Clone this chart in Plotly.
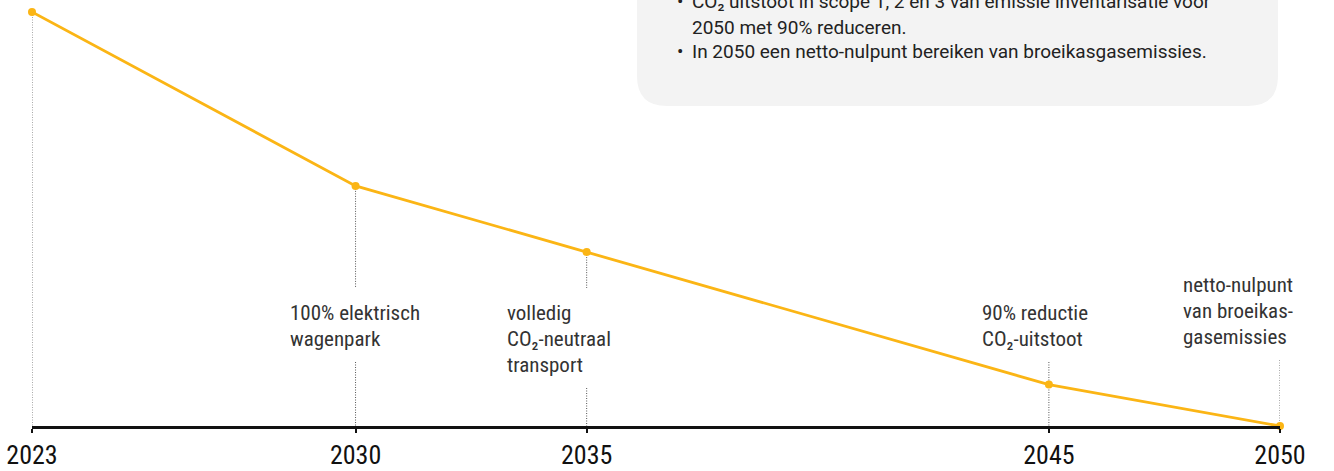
import plotly.graph_objects as go

# ---------------- data ----------------
years = [2023, 2030, 2035, 2045, 2050]
emissions = [100, 58, 42, 10, 0]          # relative emission level (%)
tick_labels = ["2023", "2030", "2035", "2045", "2050"]

milestone_years = [2030, 2035, 2045, 2050]
milestone_labels = [
    "100% elektrisch<br>wagenpark",
    "volledig<br>CO₂-neutraal<br>transport",
    "90% reductie<br>CO₂-uitstoot",
    "netto-nulpunt<br>van broeikas-<br>gasemissies",
]

box_lines = [
    "CO₂ uitstoot in scope 1, 2 en 3 van emissie inventarisatie voor",
    "2050 met 90% reduceren.",
    "In 2050 een netto-nulpunt bereiken van broeikasgasemissies.",
]
box_bullets = [True, False, True]

# ---------------- layout / style ----------------
W, H = 1334, 471
ML, MR, MT, MB = 32, 54, 12, 45
PW, PH = W - ML - MR, H - MT - MB
YMAX = 100

YELLOW = "#FBB515"
FONT_NARROW = "Liberation Sans Narrow, Arial Narrow, Roboto Condensed, sans-serif"
FONT_BOX = "Roboto, sans-serif"

# label placement (pixels): left edge of text, centre of first line
label_left_px = [288, 505, 980, 1181]
label_top_center_px = [313, 313, 313, 285]
LABEL_LINE_PX = 26


def paper_x(p):
    return (p - ML) / PW


def paper_y(p):
    return (H - MB - p) / PH


def yunit(p):
    return paper_y(p) * YMAX


def ypix(v):
    return MT + (1 - v / YMAX) * PH


fig = go.Figure()

fig.add_trace(go.Scatter(
    x=years, y=emissions, mode="lines+markers",
    line=dict(color=YELLOW, width=2.8),
    marker=dict(color=YELLOW, size=8),
    cliponaxis=False, hoverinfo="skip", showlegend=False,
))

shapes = []
annotations = []
DOT = dict(color="#555555", width=1, dash="1px,1.5px")

# first year: full dotted drop line
shapes.append(dict(type="line", xref="x", yref="y", x0=years[0], x1=years[0],
                   y0=emissions[0], y1=0, line=DOT, layer="below"))

for yr, txt, lx, cy in zip(milestone_years, milestone_labels, label_left_px, label_top_center_px):
    v = emissions[years.index(yr)]
    lines = txt.split("<br>")
    top_px = cy - 13
    bot_px = cy + LABEL_LINE_PX * (len(lines) - 1) + 13
    if ypix(v) < top_px:
        shapes.append(dict(type="line", xref="x", yref="y", x0=yr, x1=yr,
                           y0=v, y1=yunit(top_px - 12), line=DOT, layer="below"))
    shapes.append(dict(type="line", xref="x", yref="y", x0=yr, x1=yr,
                       y0=yunit(bot_px + 10), y1=0, line=DOT, layer="below"))
    for i, ln in enumerate(lines):
        annotations.append(dict(
            x=paper_x(lx), y=paper_y(cy + i * LABEL_LINE_PX), xref="paper", yref="paper",
            text=ln, showarrow=False, xanchor="left", yanchor="middle",
            font=dict(family=FONT_NARROW, size=21, color="#333333"),
        ))

# info box with rounded bottom corners
bx0, bx1 = paper_x(637), paper_x(1278)
by0, by1 = paper_y(106), paper_y(-60)
rx, ry = 30 / PW, 30 / PH
path = (f"M {bx0},{by1} L {bx1},{by1} L {bx1},{by0 + ry} "
        f"Q {bx1},{by0} {bx1 - rx},{by0} L {bx0 + rx},{by0} "
        f"Q {bx0},{by0} {bx0},{by0 + ry} Z")
shapes.append(dict(type="path", xref="paper", yref="paper", path=path,
                   fillcolor="#f3f3f3", line=dict(width=0), layer="below"))

box_center_px = [2, 27, 52]
for ln, bul, cy in zip(box_lines, box_bullets, box_center_px):
    if bul:
        annotations.append(dict(
            x=paper_x(675), y=paper_y(cy), xref="paper", yref="paper", text="•",
            showarrow=False, xanchor="left", yanchor="middle",
            font=dict(family=FONT_BOX, size=19, color="#222222")))
    annotations.append(dict(
        x=paper_x(690), y=paper_y(cy), xref="paper", yref="paper", text=ln,
        showarrow=False, xanchor="left", yanchor="middle",
        font=dict(family=FONT_BOX, size=19, color="#222222")))

fig.update_layout(
    width=W, height=H,
    margin=dict(l=ML, r=MR, t=MT, b=MB, autoexpand=False),
    paper_bgcolor="white", plot_bgcolor="white",
    shapes=shapes, annotations=annotations,
    showlegend=False,
    xaxis=dict(range=[years[0], years[-1]], tickvals=years, ticktext=tick_labels,
               automargin=False,
               showgrid=False, zeroline=False, showline=True, linecolor="#111111",
               linewidth=2.5, ticks="outside", ticklen=4, tickwidth=2, tickcolor="#111111",
               tickfont=dict(family=FONT_NARROW, size=26, color="#111111")),
    yaxis=dict(range=[0, YMAX], visible=False, showgrid=False, zeroline=False,
               automargin=False),
)

fig.write_html(
    "out.html",
    config={"displayModeBar": False},
    post_script="document.body.style.margin='0';document.body.style.overflow='hidden';",
)
